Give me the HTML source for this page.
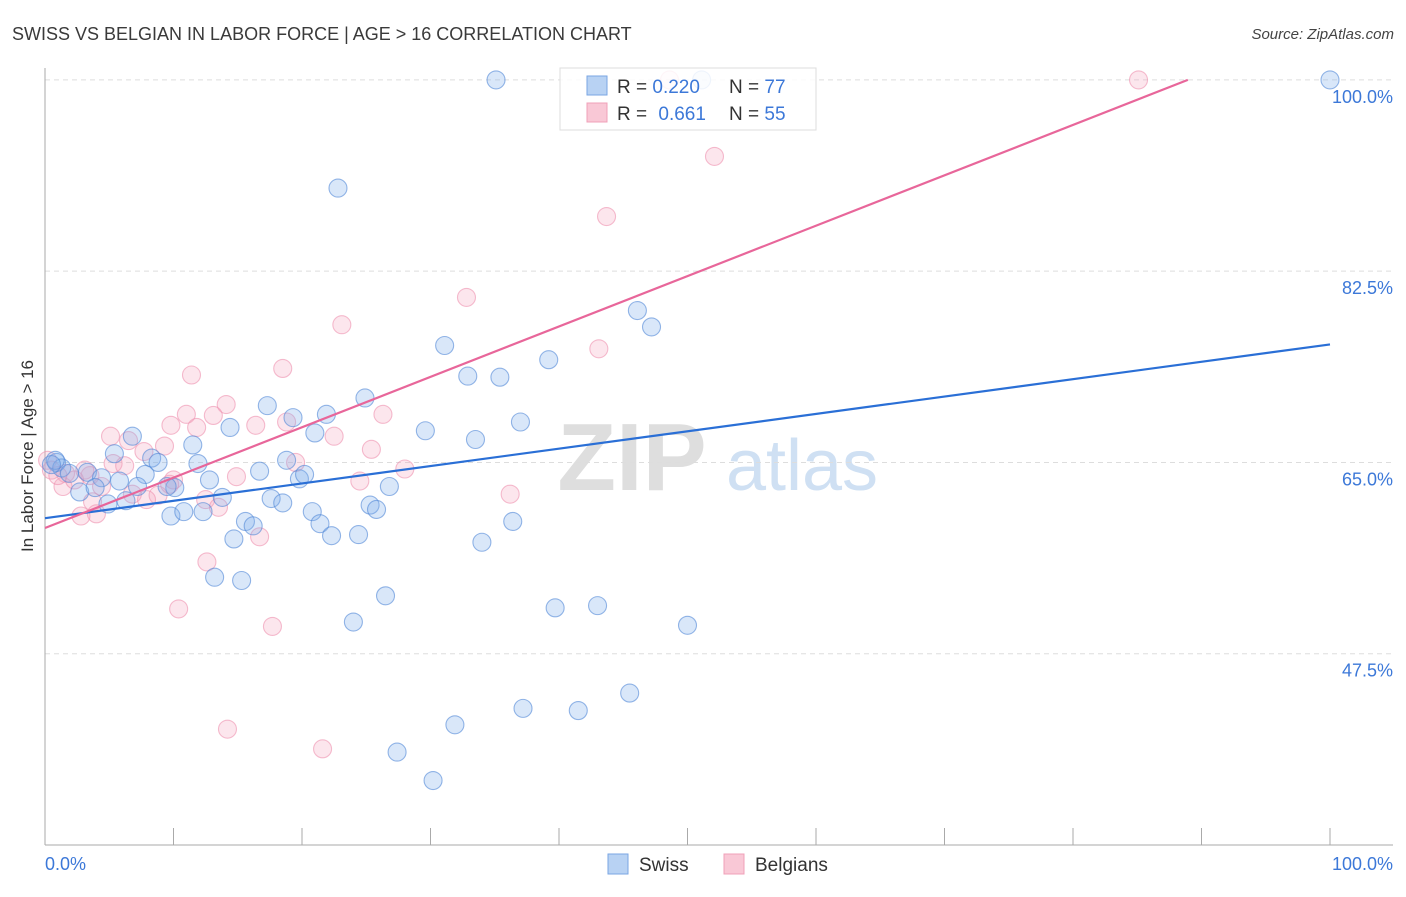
<!DOCTYPE html>
<html><head><meta charset="utf-8"><style>
body{margin:0;background:#fff;font-family:"Liberation Sans",sans-serif;}
svg text{font-family:"Liberation Sans",sans-serif;}
</style></head><body>
<svg id="chart" width="1406" height="892" xmlns="http://www.w3.org/2000/svg">
<text x="12" y="40" font-size="18" fill="#3a3a3a">SWISS VS BELGIAN IN LABOR FORCE | AGE &gt; 16 CORRELATION CHART</text>
<text x="1394" y="39" font-size="15" fill="#444" text-anchor="end" font-style="italic">Source: ZipAtlas.com</text>
<g>
<text x="632" y="490" font-size="96" fill="#dedede" text-anchor="middle" font-family="Liberation Serif" font-weight="bold">ZIP</text>
<text x="802" y="490" font-size="72" fill="#cfe0f3" text-anchor="middle">atlas</text>
</g>
<g id="grid"></g>
<g id="axes"></g>
<g id="pts"></g>
<g id="lines"></g>
<text transform="translate(33,456) rotate(-90)" font-size="17" fill="#333" text-anchor="middle">In Labor Force | Age &gt; 16</text>
<text x="45" y="870" font-size="18" fill="#3c78d8">0.0%</text>
<text x="1393" y="870" font-size="18" fill="#3c78d8" text-anchor="end">100.0%</text>
<g>
<rect x="560" y="68" width="256" height="62" fill="#fff" fill-opacity="0.85" stroke="#ddd"/>
<rect x="587" y="76" width="20" height="19" fill="#b8d2f3" stroke="#7aa6e3"/>
<rect x="587" y="103" width="20" height="19" fill="#f9c8d6" stroke="#f0a0b8"/>
<text x="617" y="93" font-size="19" fill="#333">R = <tspan fill="#3c78d8">0.220</tspan></text>
<text x="729" y="93" font-size="19" fill="#333">N = <tspan fill="#3c78d8">77</tspan></text>
<text x="617" y="120" font-size="19" fill="#333">R = <tspan fill="#3c78d8" dx="6">0.661</tspan></text>
<text x="729" y="120" font-size="19" fill="#333">N = <tspan fill="#3c78d8">55</tspan></text>
</g>
<g>
<rect x="608" y="854" width="20" height="20" fill="#b8d2f3" stroke="#7aa6e3"/>
<text x="639" y="871" font-size="19" fill="#333">Swiss</text>
<rect x="724" y="854" width="20" height="20" fill="#f9c8d6" stroke="#f0a0b8"/>
<text x="755" y="871" font-size="19" fill="#333">Belgians</text>
</g>
</svg>
<script>
const yTicks=[47.5,65,82.5,100];
const yTickLabels=["47.5%","65.0%","82.5%","100.0%"];
const xTicks=[0,10,20,30,40,50,60,70,80,90,100];
const swissX=[35.1,51.1,100,22.8,46.1,47.2,31.1,39.2,32.9,35.4,24.9,17.3,19.3,21.9,37.0,14.4,6.8,11.5,29.6,33.5,21.0,5.4,8.3,8.8,11.9,18.8,16.7,0.9,1.3,1.9,3.3,19.8,20.2,12.8,5.8,4.4,7.8,10.1,9.5,7.2,2.7,3.9,26.8,6.3,4.9,13.8,17.6,18.5,25.3,25.8,9.8,10.8,12.3,20.8,21.4,15.6,16.2,36.4,14.7,22.3,24.4,34.0,13.2,15.3,26.5,39.7,43.0,24.0,50.0,45.5,37.2,41.5,31.9,27.4,30.2,0.8,0.5];
const swissY=[100,100,100,90.1,78.9,77.4,75.7,74.4,72.9,72.8,70.9,70.2,69.1,69.4,68.7,68.2,67.4,66.6,67.9,67.1,67.7,65.8,65.4,65.0,64.9,65.2,64.2,65.0,64.5,64.0,64.1,63.5,63.9,63.4,63.3,63.6,63.9,62.7,62.8,62.8,62.3,62.7,62.8,61.5,61.2,61.8,61.7,61.3,61.1,60.7,60.1,60.5,60.5,60.5,59.4,59.6,59.2,59.6,58.0,58.3,58.4,57.7,54.5,54.2,52.8,51.7,51.9,50.4,50.1,43.9,42.5,42.3,41.0,38.5,35.9,65.2,64.8];
const belgX=[85.1,48.6,52.1,43.7,32.8,23.1,43.1,11.4,18.5,14.1,11.0,13.1,9.8,11.8,16.4,18.8,26.3,5.1,6.5,9.3,7.7,25.4,22.5,5.3,6.2,14.9,19.5,28.0,24.5,1.6,3.5,1.4,4.4,10.0,9.7,8.8,6.8,7.9,12.5,13.5,3.7,4.0,2.8,16.7,36.2,12.6,10.4,17.7,14.2,21.6,0.2,0.5,2.3,1.0,3.1];
const belgY=[100,100,93.0,87.5,80.1,77.6,75.4,73.0,73.6,70.3,69.4,69.3,68.4,68.2,68.4,68.7,69.4,67.4,67.0,66.5,66.0,66.2,67.4,64.9,64.7,63.7,65.0,64.4,63.3,64.0,63.8,62.8,62.8,63.4,63.0,62.0,62.1,61.6,61.6,60.9,61.4,60.3,60.1,58.2,62.1,55.9,51.6,50.0,40.6,38.8,65.2,64.3,63.4,63.8,64.3];
const swissLine=[59.9,75.8];   // y at x=0, y at x=100
const belgLine=[59.0,105.1];
const NS="http://www.w3.org/2000/svg";
function sx(v){return 45+v*12.85;}
function sy(v){return 845-(v-30)*10.93;}
function mk(tag,attrs,parent){const e=document.createElementNS(NS,tag);for(const k in attrs)e.setAttribute(k,attrs[k]);document.getElementById(parent).appendChild(e);return e;}
yTicks.forEach((t,i)=>{
 const g=mk('line',{x1:45,x2:1393,y1:sy(t),y2:sy(t),stroke:'#ddd','stroke-dasharray':'5,4'},'grid');
 
 
 const l=mk('text',{x:1393,y:sy(t)+23,'font-size':18,fill:'#3c78d8','text-anchor':'end'},'grid');
 l.textContent=yTickLabels[i];
 
 
});
const xa=mk('line',{x1:45,x2:1393,y1:845,y2:845,stroke:'#aaa'},'axes');


const ya=mk('line',{x1:45,x2:45,y1:68,y2:845,stroke:'#aaa'},'axes');


xTicks.forEach(t=>{
 const k=mk('line',{x1:sx(t),x2:sx(t),y1:828,y2:845,stroke:'#aaa'},'axes');
 
 
});
function pts(xs,ys,fill,stroke,name){
 xs.forEach((x,i)=>{
  const c=mk('circle',{cx:sx(x),cy:sy(ys[i]),r:9,fill:fill,stroke:stroke,'stroke-width':1.1},'pts');
  
  
 });
}
pts(belgX,belgY,'rgba(245,165,190,0.28)','rgba(238,145,175,0.6)','belgian-point');
pts(swissX,swissY,'rgba(130,175,235,0.3)','rgba(80,135,215,0.6)','swiss-point');
const bl=mk('line',{x1:sx(0),y1:sy(swissLine[0]),x2:sx(100),y2:sy(swissLine[1]),stroke:'#2a6fd6','stroke-width':2.2},'lines');


const slope=(belgLine[1]-belgLine[0])/100;
const xEnd=Math.min(100,(100-belgLine[0])/slope);
const pl=mk('line',{x1:sx(0),y1:sy(belgLine[0]),x2:sx(xEnd),y2:sy(belgLine[0]+slope*xEnd),stroke:'#e8669a','stroke-width':2.2},'lines');


</script>
</body></html>
